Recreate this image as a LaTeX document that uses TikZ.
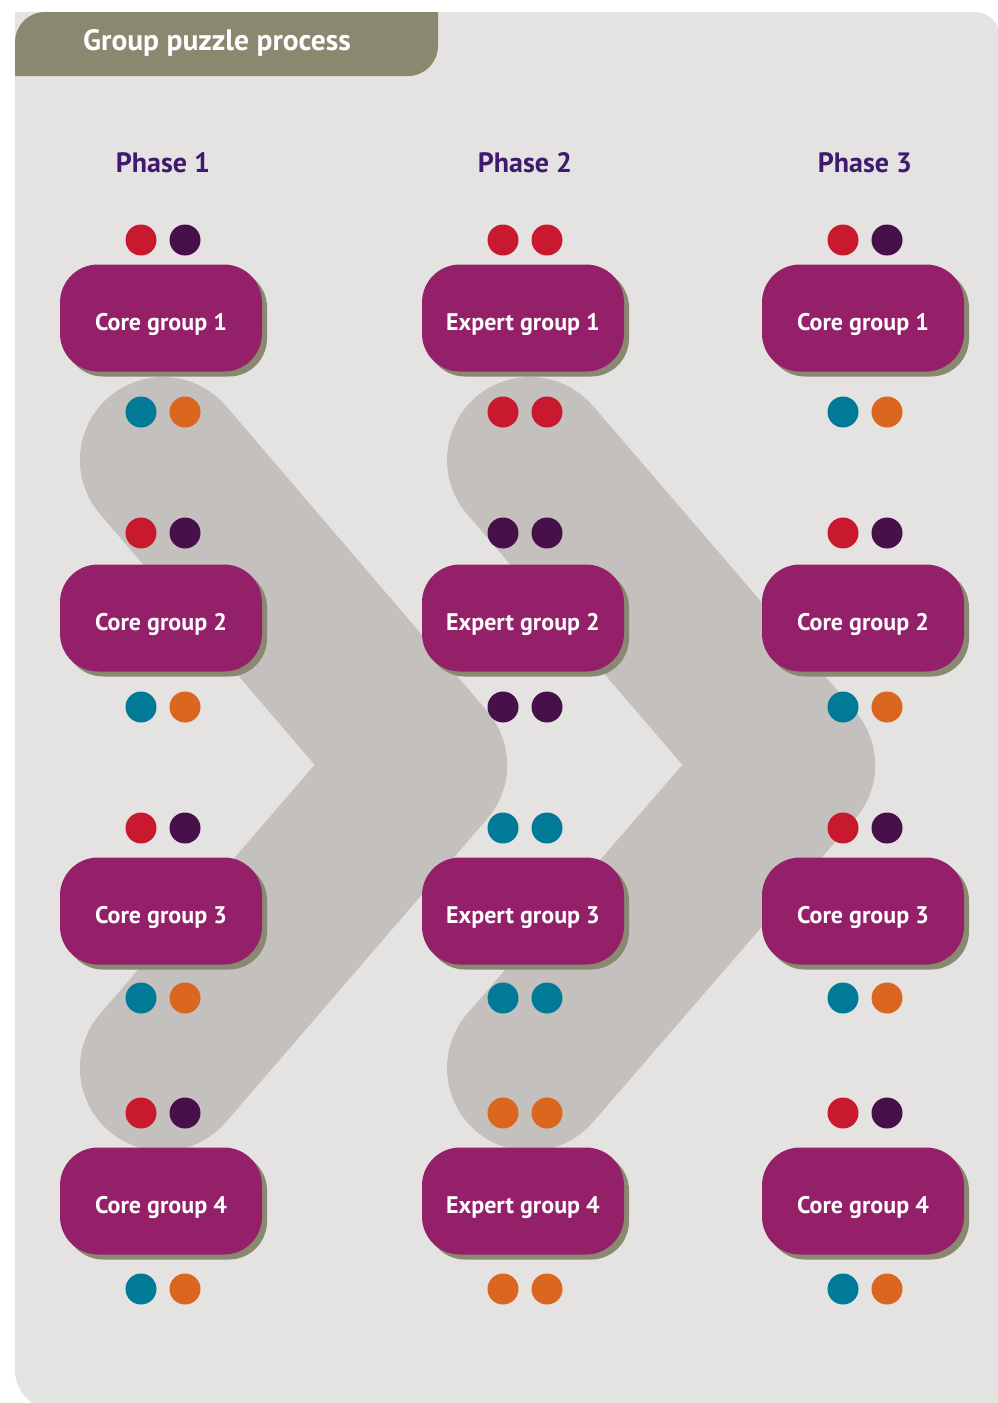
\documentclass[tikz,border=0pt]{standalone}
\usepackage{fontspec}
\setmainfont{PT Sans}
\usetikzlibrary{shadows}
\definecolor{bgc}{HTML}{E4E3E1}
\definecolor{chevc}{HTML}{C3C0BE}
\definecolor{headc}{HTML}{8A8970}
\definecolor{nodec}{HTML}{95206A}
\definecolor{shadowc}{HTML}{898870}
\definecolor{phasec}{HTML}{3F1A6E}
\definecolor{redc}{HTML}{C8192F}
\definecolor{plumc}{HTML}{47104A}
\definecolor{tealc}{HTML}{007A96}
\definecolor{orangec}{HTML}{DA6620}
\newcommand{\grplabel}[1]{\raisebox{-12pt}[0pt][0pt]{#1}}
\begin{document}
\begin{tikzpicture}[x=1pt,y=-1pt,
  grp/.style={fill=nodec, text=white, rounded corners=38pt, minimum width=202pt,
    minimum height=107pt, inner sep=0pt, font=\fontsize{24}{24}\selectfont\bfseries,
    general shadow={fill=shadowc, shadow xshift=5pt, shadow yshift=-5pt}},
  ball/.style={circle, minimum size=31pt, inner sep=0pt},
  phase/.style={text=phasec, font=\fontsize{28}{28}\selectfont\bfseries},
  chev/.style={draw=chevc, line width=166pt, line cap=round, line join=round}]
\useasboundingbox (0,0) rectangle (998,1403);
% panel
\begin{scope}
  \clip (0,0) rectangle (998,1403);
  \fill[bgc] (15,12) -- (975,12) arc[start angle=90,end angle=0,radius=25pt]
    -- (1000,1410) -- (55,1410) arc[start angle=270,end angle=180,radius=40pt] -- cycle;
  % chevrons
  \draw[chev] (163,460) -- (424,765) -- (163,1068);
  \draw[chev] (530,460) -- (792,765) -- (530,1068);
\end{scope}
% header
\fill[headc] (15,76) -- (15,42) arc[start angle=180,end angle=90,radius=30pt]
  -- (438,12) -- (438,46) arc[start angle=0,end angle=-90,radius=30pt] -- cycle;
\node[anchor=west, text=white, font=\fontsize{29.5}{29.5}\selectfont\bfseries, inner sep=0pt]
  (title) at (83,43) {Group puzzle process};
% phase labels
\node[phase] (p1) at (163,163) {Phase 1};
\node[phase] (p2) at (525,163) {Phase 2};
\node[phase] (p3) at (865,163) {Phase 3};
% group nodes
\foreach \y/\r in {318/1,618/2,911/3,1201/4}{
  \node[grp] (c1r\r) at (161,\y) {\grplabel{Core group \r}};
  \node[grp] (e2r\r) at (523,\y) {\grplabel{Expert group \r}};
  \node[grp] (c3r\r) at (863,\y) {\grplabel{Core group \r}};
}
% dots, phases 1 and 3
\foreach \cx/\c in {163/1,865/3}{
  \foreach \ya/\yb/\r in {240/412/1,533/707/2,828/998/3,1113/1289/4}{
    \node[ball, fill=redc] (d\c r\r ta) at (\cx-22,\ya) {};
    \node[ball, fill=plumc] (d\c r\r tb) at (\cx+22,\ya) {};
    \node[ball, fill=tealc] (d\c r\r ba) at (\cx-22,\yb) {};
    \node[ball, fill=orangec] (d\c r\r bb) at (\cx+22,\yb) {};
  }
}
% dots, phase 2
\foreach \ya/\yb/\r/\col in {240/412/1/redc,533/707/2/plumc,828/998/3/tealc,1113/1289/4/orangec}{
  \node[ball, fill=\col] (d2r\r ta) at (503,\ya) {};
  \node[ball, fill=\col] (d2r\r tb) at (547,\ya) {};
  \node[ball, fill=\col] (d2r\r ba) at (503,\yb) {};
  \node[ball, fill=\col] (d2r\r bb) at (547,\yb) {};
}
\end{tikzpicture}
\end{document}
